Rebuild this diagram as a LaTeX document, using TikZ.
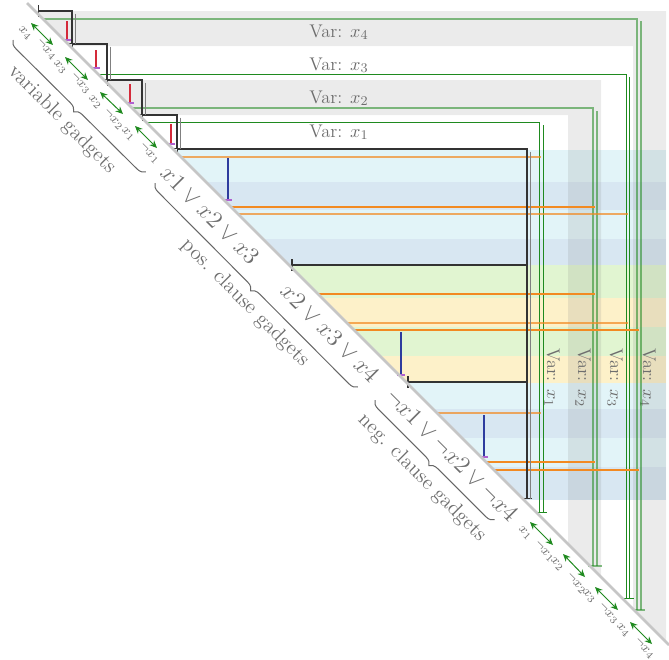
\documentclass[tikz,border=0pt]{standalone}
\usetikzlibrary{arrows.meta,decorations.pathreplacing}

\definecolor{bandgray}{HTML}{808080}
\definecolor{clcyan}{HTML}{E2F4F8}
\definecolor{clblue}{HTML}{D8E7F2}
\definecolor{clgreen}{HTML}{E1F5D1}
\definecolor{clyellow}{HTML}{FDF1C9}
\definecolor{wiregreen}{HTML}{1F8A1F}
\definecolor{wireorange}{HTML}{F28A22}
\definecolor{wirered}{HTML}{D42A3A}
\definecolor{wireblue}{HTML}{2E3C9E}
\definecolor{tickpurple}{HTML}{B060D0}
\definecolor{txtgray}{HTML}{6E6E6E}
\definecolor{diaggray}{HTML}{C6C6C6}

\tikzset{
  band/.style={fill=bandgray, fill opacity=0.16, draw=none},
  blackwire/.style={draw=black!80, line width=0.7pt, {Bar[width=7pt]}-{Bar[width=6pt]}},
  blackshadow/.style={draw=black!50, line width=0.7pt},
  greendark/.style={draw=wiregreen, line width=0.55pt},
  greenlight/.style={draw=wiregreen, draw opacity=0.55, line width=1.1pt},
  orangefull/.style={draw=wireorange, line width=0.8pt},
  orangesoft/.style={draw=wireorange, draw opacity=0.7, line width=0.9pt},
  redwire/.style={draw=wirered, line width=1.1pt},
  bluewire/.style={draw=wireblue, line width=1.1pt},
  purpletick/.style={draw=tickpurple, line width=0.8pt},
  litarrow/.style={draw=wiregreen, line width=0.6pt,
    {Stealth[length=4.5pt,width=4pt]}-{Stealth[length=4.5pt,width=4pt]}},
  bracestyle/.style={draw=black!60, line width=0.6pt, decorate,
    decoration={brace, mirror, amplitude=5pt}},
  varlab/.style={text=txtgray, font=\fontsize{11}{13}\selectfont, inner sep=0pt},
  cllab/.style={text=txtgray, font=\fontsize{14}{16}\selectfont, rotate=-45, inner sep=0pt},
  grplab/.style={text=txtgray, font=\fontsize{12.5}{15}\selectfont, rotate=-45, inner sep=0pt},
  litlab/.style={text=txtgray, font=\fontsize{8}{9}\selectfont, rotate=-45, inner sep=0pt},
}

\begin{document}
\begin{tikzpicture}[x=0.6pt, y=-0.6pt]
\useasboundingbox (0,0) rectangle (669,659);

% clause strips
\fill[clcyan]   (0,150) rectangle (666,182);
\fill[clblue]   (0,182) rectangle (666,210);
\fill[clcyan]   (0,210) rectangle (666,239);
\fill[clblue]   (0,239) rectangle (666,265);
\fill[clgreen]  (0,265) rectangle (666,298);
\fill[clyellow] (0,298) rectangle (666,327);
\fill[clgreen]  (0,327) rectangle (666,356);
\fill[clyellow] (0,356) rectangle (666,383);
\fill[clcyan]   (0,383) rectangle (666,409);
\fill[clblue]   (0,409) rectangle (666,438);
\fill[clcyan]   (0,438) rectangle (666,467);
\fill[clblue]   (0,467) rectangle (666,500);

% L-shaped variable bands (x4 and x2 shaded)
\fill[band] (0,11) -- (666,11) -- (666,700) -- (633,700) -- (633,46) -- (0,46) -- cycle;
\fill[band] (0,80) -- (601,80) -- (601,700) -- (568,700) -- (568,115) -- (0,115) -- cycle;

% everything below the diagonal is blank
\fill[white] (-30,-54) -- (720,696) -- (-30,696) -- cycle;

% variable band labels
\node[varlab, anchor=base west] (v4) at (309,37)  {Var: $x_4$};
\node[varlab, anchor=base west] (v3) at (309,70)  {Var: $x_3$};
\node[varlab, anchor=base west] (v2) at (309,103) {Var: $x_2$};
\node[varlab, anchor=base west] (v1) at (309,137) {Var: $x_1$};
\node[varlab, rotate=-90, anchor=base west] (w1) at (547,348) {Var: $x_1$};
\node[varlab, rotate=-90, anchor=base west] (w2) at (578,348) {Var: $x_2$};
\node[varlab, rotate=-90, anchor=base west] (w3) at (610,348) {Var: $x_3$};
\node[varlab, rotate=-90, anchor=base west] (w4) at (643,348) {Var: $x_4$};

% green variable wires
\draw[greenlight] (43,19) -| (637,610);
\draw[greenlight] (641,21) -- (641,610);
\draw[greenlight] (633,610) -- (645,610);
\draw[greendark] (98,74) -| (626,598);
\draw[greendark] (629.5,77) -- (629.5,598);
\draw[greendark] (621,598) -- (634,598);
\draw[greenlight] (132,108) -| (593,566);
\draw[greenlight] (597,111) -- (597,566);
\draw[greenlight] (588,566) -- (602,566);
\draw[greendark] (146,122) -| (539,512);
\draw[greendark] (543,125) -- (543,512);
\draw[greendark] (535,512) -- (547,512);

% orange literal wires
\draw[orangesoft] (181,157) -- (541,157);
\draw[orangefull] (231,207) -- (595,207);
\draw[orangesoft] (238,214) -- (627.5,214);
\draw[orangefull] (318,294) -- (595,294);
\draw[orangesoft] (347,323) -- (627.5,323);
\draw[orangefull] (354,330) -- (639,330);
\draw[orangesoft] (437,413) -- (541,413);
\draw[orangefull] (486,462) -- (595,462);
\draw[orangefull] (494,470) -- (639,470);

% black staircase
\coordinate (s0) at (38,11);
\coordinate (s1) at (72,44);
\coordinate (s2) at (107,80);
\coordinate (s3) at (142,115);
\coordinate (s4) at (177,149);
\coordinate (s5) at (527,499);
\draw[blackwire] (s0) -| (s1);
\draw[blackwire] (s1) -| (s2);
\draw[blackwire] (s2) -| (s3);
\draw[blackwire] (s3) -| (s4);
\draw[blackwire] (s4) -| (s5);
\draw[blackshadow] (75.5,13.5) -- (75.5,44);
\draw[blackshadow] (110.5,46.5) -- (110.5,80);
\draw[blackshadow] (145.5,82.5) -- (145.5,115);
\draw[blackshadow] (180.5,117.5) -- (180.5,149);
\draw[blackshadow] (530.5,151.5) -- (530.5,499);
\coordinate (c2) at (292,265);
\coordinate (c3) at (408,382);
\draw[blackwire, -] (c2) -- (527,265);
\draw[draw=black!80, line width=0.7pt] (292,259) -- (292,271);
\draw[blackwire, -] (c3) -- (527,382);
\draw[draw=black!80, line width=0.7pt] (408,376) -- (408,388);

% red variable arrows
\draw[redwire] (67,21) -- (67,40);   \draw[purpletick] (63,40) -- (71,40);
\draw[redwire] (96,50) -- (96,68);   \draw[purpletick] (92,68) -- (100,68);
\draw[redwire] (130,84) -- (130,103); \draw[purpletick] (126,103) -- (134,103);
\draw[redwire] (171,124) -- (171,144); \draw[purpletick] (167,144) -- (175,144);

% blue clause arrows
\draw[bluewire] (228,158) -- (228,200); \draw[purpletick] (224,200) -- (232,200);
\draw[bluewire] (401,332) -- (401,375); \draw[purpletick] (397,375) -- (405,375);
\draw[bluewire] (484,415) -- (484,457); \draw[purpletick] (480,457) -- (488,457);

% diagonal
\draw[draw=diaggray, line width=1.5pt] (27,3) -- (669,645);

% literal pairs, upper left
\draw[litarrow] (31,23) -- (53,45);
\draw[litarrow] (65,57) -- (88,80);
\draw[litarrow] (100,92) -- (123,114);
\draw[litarrow] (135,126) -- (157,148);
\node[litlab] (a4) at (25,33) {$x_4$};
\node[litlab] (b4) at (46,50) {$\neg x_4$};
\node[litlab] (a3) at (60,67) {$x_3$};
\node[litlab] (b3) at (80,84) {$\neg x_3$};
\node[litlab] (a2) at (95,102) {$x_2$};
\node[litlab] (b2) at (113,120) {$\neg x_2$};
\node[litlab] (a1) at (128,134) {$x_1$};
\node[litlab] (b1) at (149,154) {$\neg x_1$};

% literal pairs, lower right
\draw[litarrow] (530,522) -- (553,545);
\draw[litarrow] (563,554) -- (585,577);
\draw[litarrow] (595,587) -- (618,610);
\draw[litarrow] (630,622) -- (652,644);
\node[litlab] (p1) at (525,533) {$x_1$};
\node[litlab] (n1) at (544,552) {$\neg x_1$};
\node[litlab] (p2) at (557,564) {$x_2$};
\node[litlab] (n2) at (576,584) {$\neg x_2$};
\node[litlab] (p3) at (589,596) {$x_3$};
\node[litlab] (n3) at (608,614) {$\neg x_3$};
\node[litlab] (p4) at (623,630) {$x_4$};
\node[litlab] (n4) at (644,649) {$\neg x_4$};

% clause labels
\node[cllab] (k1) at (210,215) {$x1 \vee x2 \vee x3$};
\node[cllab] (k2) at (330,333) {$x2 \vee x3 \vee x4$};
\node[cllab] (k3) at (452,455) {$\neg x1 \vee \neg x2 \vee \neg x4$};

% group braces and labels
\draw[bracestyle] (13,40) -- (146,172);
\draw[bracestyle] (155,183) -- (358,387);
\draw[bracestyle] (375,400) -- (495,520);
\node[grplab] (g1) at (62,120) {variable gadgets};
\node[grplab] (g2) at (245,303) {pos. clause gadgets};
\node[grplab] (g3) at (422,478) {neg. clause gadgets};
\end{tikzpicture}
\end{document}
